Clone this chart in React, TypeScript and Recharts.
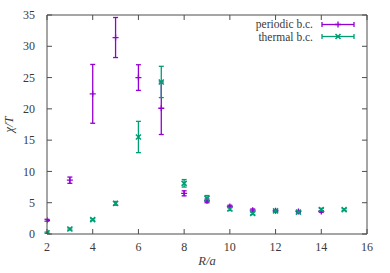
import React from 'react';
import { ScatterChart, Scatter, XAxis, YAxis, ErrorBar, Legend, Label } from 'recharts';

const rPeriodic = [2, 3, 4, 5, 6, 7, 8, 9, 10, 11, 12, 13, 14];
const chiPeriodic = [2.2, 8.6, 22.4, 31.4, 25.0, 20.1, 6.5, 5.3, 4.4, 3.8, 3.7, 3.6, 3.6];
const errPeriodic = [0.15, 0.5, 4.7, 3.2, 2.05, 4.2, 0.4, 0.3, 0.2, 0.2, 0.15, 0.15, 0.15];

const rThermal = [2, 3, 4, 5, 6, 7, 8, 9, 10, 11, 12, 13, 14, 15];
const chiThermal = [0.2, 0.8, 2.3, 4.9, 15.5, 24.3, 8.1, 5.7, 4.0, 3.3, 3.7, 3.5, 3.9, 3.9];
const errThermal = [0.1, 0.15, 0.15, 0.3, 2.5, 2.5, 0.6, 0.45, 0.25, 0.2, 0.15, 0.15, 0.2, 0.15];

const xTicks = [2, 4, 6, 8, 10, 12, 14, 16];
const yTicks = [0, 5, 10, 15, 20, 25, 30, 35];

const seriesNames = ['periodic b.c.', 'thermal b.c.'];

const PURPLE = '#9400d3';
const GREEN = '#009e73';
const AXIS = '#4d4d4d';
const TEXT = '#3a3a3a';
const FONT = "'Liberation Serif', serif";

const periodicData = rPeriodic.map((r, i) => ({ r, chi: chiPeriodic[i], err: errPeriodic[i] }));
const thermalData = rThermal.map((r, i) => ({ r, chi: chiThermal[i], err: errThermal[i] }));

const PlusShape = (props: any) => {
  const { cx, cy } = props;
  return <path d={`M${cx - 3},${cy}h6M${cx},${cy - 3}v6`} stroke={PURPLE} strokeWidth={1.3} fill="none" />;
};

const CrossShape = (props: any) => {
  const { cx, cy } = props;
  return (
    <path
      d={`M${cx - 2.5},${cy - 2.5}l5,5M${cx - 2.5},${cy + 2.5}l5,-5`}
      stroke={GREEN}
      strokeWidth={1.6}
      fill="none"
    />
  );
};

const textStyle = { fontFamily: FONT };

const BottomTick = (props: any) => {
  const { x, y, payload } = props;
  return (
    <g>
      <line x1={x} x2={x} y1={y - 8} y2={y - 13} stroke={AXIS} strokeWidth={1} />
      <text x={x} y={y} dy="0.71em" textAnchor="middle" style={textStyle} fontSize={12} fill={TEXT}>
        {payload.value}
      </text>
    </g>
  );
};

const TopTick = (props: any) => {
  const { x, y } = props;
  return <line x1={x} x2={x} y1={y} y2={y + 5} stroke={AXIS} strokeWidth={1} />;
};

const LeftTick = (props: any) => {
  const { x, y, payload } = props;
  return (
    <g>
      <line x1={x + 12} x2={x + 17} y1={y} y2={y} stroke={AXIS} strokeWidth={1} />
      <text x={x} y={y} dy="0.35em" textAnchor="end" style={textStyle} fontSize={12} fill={TEXT}>
        {payload.value}
      </text>
    </g>
  );
};

const RightTick = (props: any) => {
  const { x, y } = props;
  return <line x1={x} x2={x - 5} y1={y} y2={y} stroke={AXIS} strokeWidth={1} />;
};

const LegendSample = ({ color, marker }: { color: string; marker: 'plus' | 'cross' }) => (
  <svg width={36} height={11} style={{ display: 'block', marginLeft: 7 }}>
    <line x1={2} x2={34} y1={5.5} y2={5.5} stroke={color} strokeWidth={1.3} />
    <line x1={2} x2={2} y1={3} y2={8} stroke={color} strokeWidth={1.3} />
    <line x1={34} x2={34} y1={3} y2={8} stroke={color} strokeWidth={1.3} />
    {marker === 'plus' ? (
      <path d="M15,5.5h6M18,2.5v6" stroke={color} strokeWidth={1.3} />
    ) : (
      <path d="M15.5,3l5,5M15.5,8l5,-5" stroke={color} strokeWidth={1.6} />
    )}
  </svg>
);

const LegendContent = () => (
  <div style={{ fontFamily: FONT, fontSize: 11.5, color: TEXT }}>
    {seriesNames.map((name, i) => (
      <div
        key={name}
        style={{ display: 'flex', justifyContent: 'flex-end', alignItems: 'center', height: 12.5, lineHeight: '12.5px' }}
      >
        <span>{name}</span>
        <LegendSample color={i === 0 ? PURPLE : GREEN} marker={i === 0 ? 'plus' : 'cross'} />
      </div>
    ))}
  </div>
);

export default function App() {
  return (
    <div style={{ position: 'absolute', left: 0, top: 0, width: 390, height: 273, background: '#fff' }}>
      <ScatterChart width={390} height={273} margin={{ top: 10, right: 18, bottom: 4, left: 17 }}>
        <XAxis
          xAxisId="bottom"
          type="number"
          dataKey="r"
          domain={[2, 16]}
          ticks={xTicks}
          allowDataOverflow
          height={35}
          tickSize={0}
          tickMargin={8}
          tick={BottomTick}
          axisLine={{ stroke: AXIS, strokeWidth: 1 }}
        >
          <Label
            content={(p: any) => {
              const vb = p.viewBox;
              return (
                <text
                  x={vb.x + vb.width / 2}
                  y={vb.y + 31}
                  textAnchor="middle"
                  style={textStyle}
                  fontStyle="italic"
                  fontSize={12.5}
                  fill={TEXT}
                >
                  R/a
                </text>
              );
            }}
          />
        </XAxis>
        <XAxis
          xAxisId="top"
          orientation="top"
          type="number"
          dataKey="r"
          domain={[2, 16]}
          ticks={xTicks}
          allowDataOverflow
          height={5}
          tickSize={0}
          tickMargin={0}
          tick={TopTick}
          axisLine={{ stroke: AXIS, strokeWidth: 1 }}
        />
        <YAxis
          yAxisId="left"
          type="number"
          dataKey="chi"
          domain={[0, 35]}
          ticks={yTicks}
          allowDataOverflow
          width={30}
          tickSize={0}
          tickMargin={12}
          tick={LeftTick}
          axisLine={{ stroke: AXIS, strokeWidth: 1 }}
        >
          <Label
            content={(p: any) => {
              const vb = p.viewBox;
              const cx = vb.x - 4;
              const cy = vb.y + vb.height / 2;
              return (
                <text
                  transform={`translate(${cx},${cy}) rotate(-90)`}
                  textAnchor="middle"
                  style={textStyle}
                  fontStyle="italic"
                  fontSize={12.5}
                  fill={TEXT}
                >
                  χ/T
                </text>
              );
            }}
          />
        </YAxis>
        <YAxis
          yAxisId="right"
          orientation="right"
          type="number"
          dataKey="chi"
          domain={[0, 35]}
          ticks={yTicks}
          allowDataOverflow
          width={5}
          tickSize={0}
          tickMargin={0}
          tick={RightTick}
          axisLine={{ stroke: AXIS, strokeWidth: 1 }}
        />
        <Legend
          layout="vertical"
          align="center"
          verticalAlign="middle"
          wrapperStyle={{ left: 160, top: 18, width: 196, height: 25 }}
          content={LegendContent}
        />
        <Scatter
          name={seriesNames[0]}
          data={periodicData}
          xAxisId="bottom"
          yAxisId="left"
          dataKey="chi"
          fill={PURPLE}
          shape={PlusShape}
          isAnimationActive={false}
        >
          <ErrorBar dataKey="err" direction="y" width={2.5} stroke={PURPLE} strokeWidth={1.3} />
        </Scatter>
        <Scatter
          name={seriesNames[1]}
          data={thermalData}
          xAxisId="bottom"
          yAxisId="left"
          dataKey="chi"
          fill={GREEN}
          shape={CrossShape}
          isAnimationActive={false}
        >
          <ErrorBar dataKey="err" direction="y" width={2.5} stroke={GREEN} strokeWidth={1.3} />
        </Scatter>
      </ScatterChart>
    </div>
  );
}
